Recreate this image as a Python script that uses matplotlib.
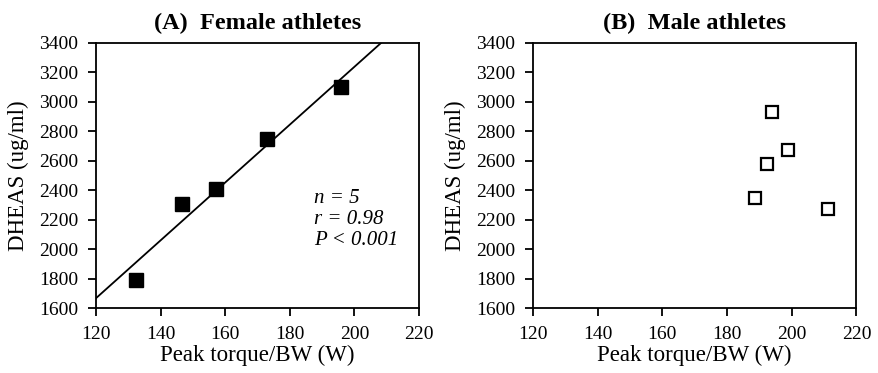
import numpy as np
import matplotlib.pyplot as plt

plt.rcParams['font.family'] = ['Liberation Serif', 'DejaVu Serif']

# Female athletes (panel A)
female_torque = [132.5, 146.5, 157, 173, 196]
female_dheas = [1795, 2308, 2408, 2750, 3098]

# Male athletes (panel B)
male_torque = [188.5, 192.3, 194, 198.8, 211.3]
male_dheas = [2345, 2576, 2928, 2670, 2273]

xticks = [120, 140, 160, 180, 200, 220]
yticks = list(range(1600, 3401, 200))
stats_lines = ["n = 5", "r = 0.98", "P < 0.001"]

fig = plt.figure(figsize=(8.79, 3.73), dpi=100)
ax_a = fig.add_axes([96 / 879, 64.7 / 373, 323 / 879, 265.7 / 373])
ax_b = fig.add_axes([533 / 879, 64.7 / 373, 323.5 / 879, 265.7 / 373])

# regression line for female data, from the left edge up to the top edge
slope, intercept = np.polyfit(female_torque, female_dheas, 1)
x_end = (3400 - intercept) / slope
line_x = np.array([120, x_end])
ax_a.plot(line_x, slope * line_x + intercept, color='black', lw=1.3, zorder=2)
ax_a.plot(female_torque, female_dheas, 's', color='black', markersize=10, zorder=3)
for i, s in enumerate(stats_lines):
    ax_a.text(0.675, 0.415 - i * 0.08, s, transform=ax_a.transAxes,
              fontsize=15, style='italic', ha='left', va='center')

ax_b.plot(male_torque, male_dheas, 's', markerfacecolor='white', markeredgecolor='black',
          markeredgewidth=1.6, markersize=9)

for ax, title in [(ax_a, '(A)  Female athletes'), (ax_b, '(B)  Male athletes')]:
    ax.set_xlim(120, 220)
    ax.set_ylim(1600, 3400)
    ax.set_xticks(xticks)
    ax.set_yticks(yticks)
    ax.tick_params(direction='out', length=6, width=1.3, labelsize=14,
                   top=False, right=False)
    ax.tick_params(axis='x', pad=7)
    ax.tick_params(axis='y', pad=7)
    for sp in ax.spines.values():
        sp.set_linewidth(1.3)
    ax.set_xlabel('Peak torque/BW (W)', fontsize=16.5, labelpad=1)
    ax.set_ylabel('DHEAS (ug/ml)', fontsize=16.5, labelpad=7)
    ax.set_title(title, fontsize=17.5, fontweight='bold', pad=10)

fig.savefig('out.png', dpi=100)
